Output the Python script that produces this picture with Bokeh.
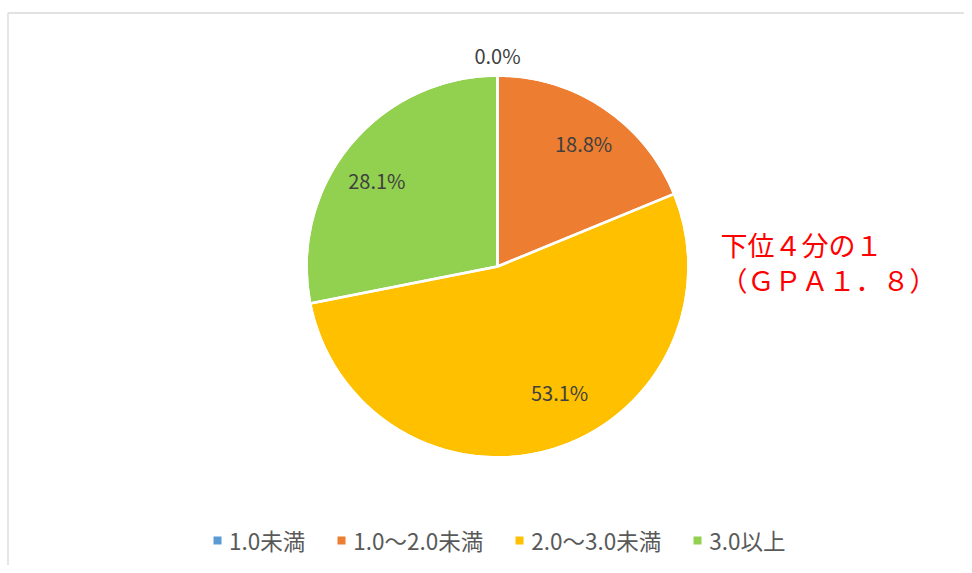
import math
from bokeh.plotting import figure
from bokeh.models import ColumnDataSource, Range1d, Legend, LegendItem
from bokeh.core.properties import value
from bokeh.embed import file_html
from bokeh.resources import INLINE

# ---- data ----
categories = ["1.0未満", "1.0～2.0未満", "2.0～3.0未満", "3.0以上"]
shares = [0.0, 18.8, 53.1, 28.1]
colors = ["#5B9BD5", "#ED7D31", "#FFC000", "#92D050"]
note_lines = ["下位４分の１", "（ＧＰＡ１．８）"]

# ---- layout ----
W, H = 964, 565
cx, cy, R = 497, 299, 191
label_r = [1.105, 0.785, 0.735, 0.775]
label_nudge_deg = [0, 1.2, -9.5, -4]
FONT = "Noto Sans CJK JP"

total = sum(shares)
starts, ends, lx, ly, ltxt = [], [], [], [], []
cum = 0.0
for i, s in enumerate(shares):
    f0 = cum / total
    cum += s
    f1 = cum / total
    starts.append(math.pi / 2 - 2 * math.pi * f0)
    ends.append(math.pi / 2 - 2 * math.pi * f1)
    mid = math.radians(360 * (f0 + f1) / 2 + label_nudge_deg[i])
    d = label_r[i] * R
    lx.append(cx + d * math.sin(mid))
    ly.append(cy + d * math.cos(mid))
    ltxt.append(f"{s:.1f}%")

p = figure(width=W, height=H, output_backend="svg", toolbar_location=None,
           x_range=Range1d(0, W), y_range=Range1d(0, H),
           x_axis_type=None, y_axis_type=None, min_border=0)
p.grid.visible = False
p.outline_line_color = None
p.background_fill_color = "white"
p.border_fill_color = "white"

# chart area border (cut off at right/bottom)
p.line(x=[7.5, 7.5, W], y=[0, H - 12.5, H - 12.5], line_color="#d9d9d9", line_width=1.3)

src = ColumnDataSource(dict(start=starts, end=ends, color=colors, cat=categories))
fills = p.wedge(x=cx, y=cy, radius=R, start_angle="start", end_angle="end",
                direction="clock", fill_color="color", line_color=None, source=src)
p.wedge(x=cx, y=cy, radius=R, start_angle="start", end_angle="end",
        direction="clock", fill_color=None, line_color="white",
        line_width=2.5, source=src)

lsrc = ColumnDataSource(dict(x=lx, y=ly, t=ltxt))
p.text(x="x", y="y", text="t", source=lsrc, text_font=value(FONT),
       text_font_size="20px", text_color="#404040",
       text_align="center", text_baseline="middle")

# red annotation
p.text(x=[720, 720], y=[H - 244, H - 279], text=note_lines, text_font=value(FONT),
       text_font_size="27px", text_color="#FF0000",
       text_align="left", text_baseline="middle")

items = [LegendItem(label=name, renderers=[fills], index=i)
         for i, name in enumerate(categories)]

legend = Legend(items=items, orientation="horizontal", location=(212, 9),
                glyph_width=10, glyph_height=10, label_standoff=7, spacing=31,
                padding=0, margin=0, border_line_color=None,
                background_fill_alpha=0,
                label_text_font=FONT, label_text_font_size="22.5px",
                label_text_color="#595959")
p.add_layout(legend)

open("out.html", "w").write(file_html(p, INLINE))
